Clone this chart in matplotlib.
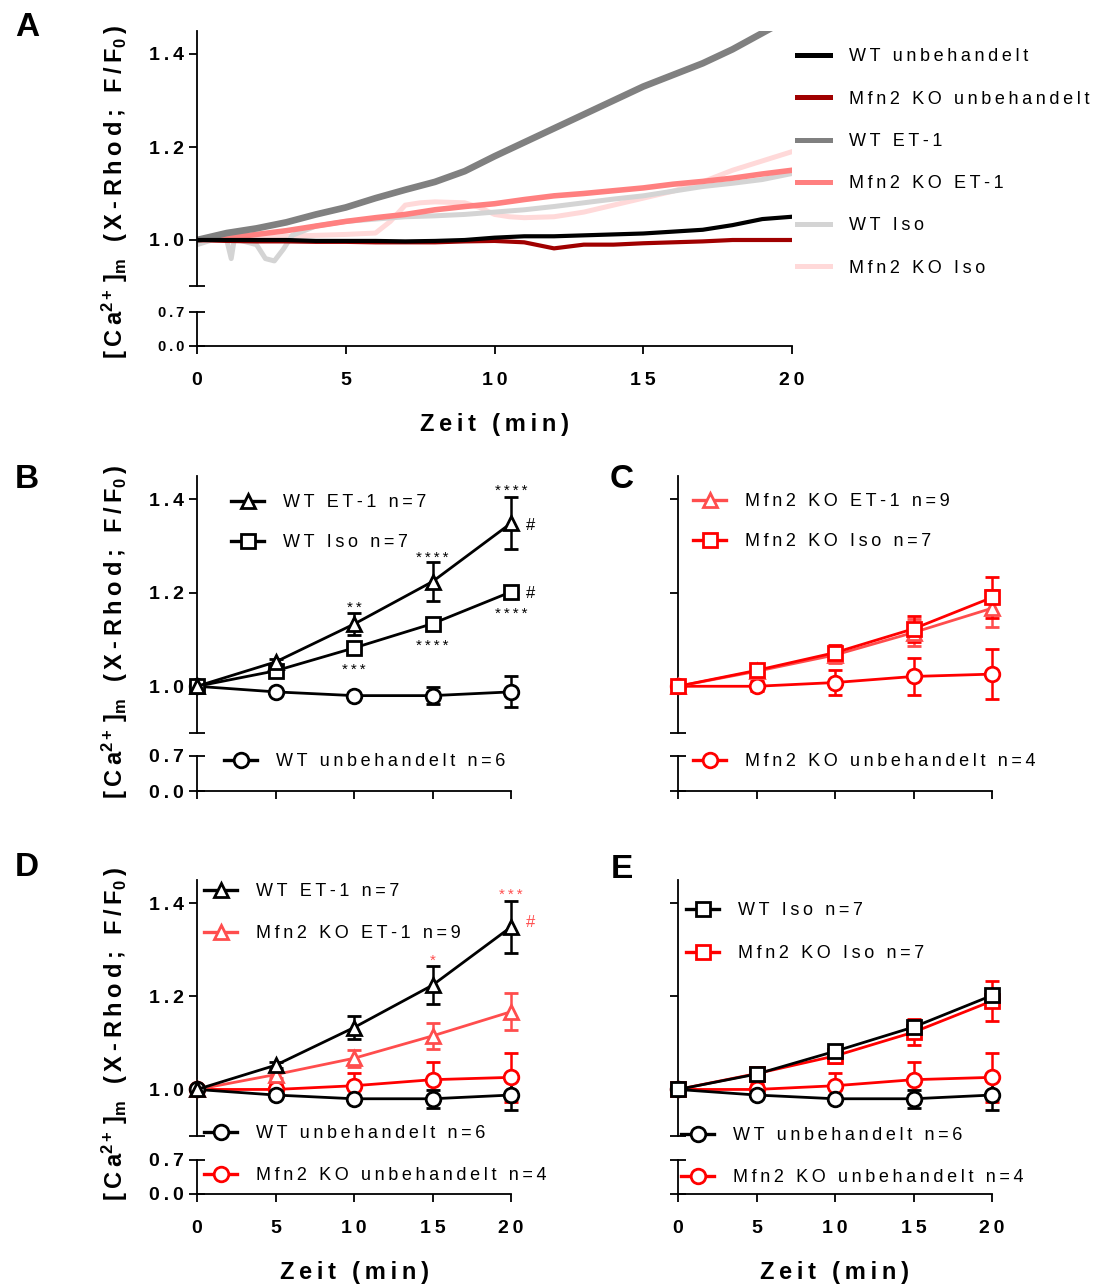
import matplotlib as mpl
mpl.use('Agg')
import matplotlib.pyplot as plt
from matplotlib.lines import Line2D
from matplotlib.ticker import FixedLocator, FuncFormatter

plt.rcParams['font.family'] = ['Liberation Sans', 'DejaVu Sans']
plt.rcParams['font.weight'] = 'bold'
plt.rcParams['axes.labelweight'] = 'bold'
plt.rcParams['mathtext.fontset'] = 'custom'
plt.rcParams['mathtext.rm'] = 'Liberation Sans:bold'
plt.rcParams['mathtext.bf'] = 'Liberation Sans:bold'
plt.rcParams['mathtext.it'] = 'Liberation Sans:bold'

######################
## data: panel A, mean traces (F/F0 over minutes)
######################

t_trace = [0, 1, 2, 3, 4, 5, 6, 7, 8, 9, 10, 11, 12, 13, 14, 15, 16, 17, 18, 19, 20]
wt_unbeh_trace = [1.0, 1.0, 1.0, 1.0, 0.998, 0.998, 0.998, 0.997, 0.998, 1.0, 1.005,
                  1.008, 1.008, 1.01, 1.012, 1.014, 1.018, 1.022, 1.032, 1.045, 1.05]
ko_unbeh_trace = [1.0, 0.998, 0.997, 0.997, 0.996, 0.996, 0.995, 0.995, 0.995, 0.997, 0.998,
                  0.995, 0.982, 0.99, 0.99, 0.993, 0.995, 0.997, 1.0, 1.0, 1.0]
wt_et1_trace = [1.0, 1.015, 1.025, 1.038, 1.055, 1.07, 1.09, 1.108, 1.125, 1.148, 1.18,
                1.21, 1.24, 1.27, 1.30, 1.33, 1.355, 1.38, 1.41, 1.445, 1.48]
ko_et1_trace = [1.0, 1.005, 1.012, 1.02, 1.03, 1.04, 1.048, 1.055, 1.065, 1.072, 1.078,
                1.087, 1.095, 1.10, 1.106, 1.112, 1.12, 1.126, 1.133, 1.142, 1.15]
t_wt_iso = [0, 0.5, 1.0, 1.15, 1.25, 1.4, 2.0, 2.3, 2.6, 2.9, 3.2, 4, 5, 6, 7, 8, 9, 10,
            11, 12, 13, 14, 15, 16, 17, 18, 19, 20]
wt_iso_trace = [0.99, 1.0, 1.0, 0.96, 1.0, 1.0, 0.99, 0.96, 0.955, 0.98, 1.01, 1.03, 1.04,
                1.045, 1.05, 1.052, 1.055, 1.06, 1.065, 1.072, 1.08, 1.088, 1.095, 1.105,
                1.115, 1.122, 1.13, 1.143]
t_ko_iso = [0, 1, 2, 3, 4, 5, 6, 6.5, 7, 7.5, 8, 9, 9.5, 10, 10.5, 11, 12, 13, 14, 15, 16,
            17, 18, 19, 20]
ko_iso_trace = [1.0, 1.0, 1.003, 1.008, 1.01, 1.012, 1.015, 1.04, 1.075, 1.08, 1.082, 1.08,
                1.07, 1.055, 1.05, 1.048, 1.05, 1.06, 1.075, 1.09, 1.105, 1.125, 1.15, 1.17, 1.19]

######################
## data: panels B-E, mean +- SEM at time points
######################

t_pts = [0, 5, 10, 15, 20]
wt_unbeh = [1.0, 0.988, 0.980, 0.980, 0.988]
wt_unbeh_err = [0.0, 0.004, 0.005, 0.019, 0.033]
wt_et1 = [1.0, 1.052, 1.133, 1.224, 1.349]
wt_et1_err = [0.0, 0.006, 0.024, 0.041, 0.056]
wt_iso = [1.0, 1.033, 1.082, 1.134, 1.202]
wt_iso_err = [0.0, 0.004, 0.008, 0.008, 0.012]
ko_unbeh = [1.0, 1.0, 1.008, 1.021, 1.026]
ko_unbeh_err = [0.0, 0.011, 0.027, 0.039, 0.053]
ko_et1 = [1.0, 1.032, 1.067, 1.115, 1.167]
ko_et1_err = [0.0, 0.008, 0.018, 0.028, 0.040]
ko_iso = [1.0, 1.034, 1.072, 1.123, 1.190]
ko_iso_err = [0.0, 0.006, 0.016, 0.028, 0.043]

x_ticks = [0, 5, 10, 15, 20]
y_ticks_top = [1.0, 1.2, 1.4]
y_ticks_low = [0.0, 0.7]

######################
## style
######################

W, H = 1098, 1288
LW_AX = 1.3
BLACK = 'black'
RED = '#ff0000'
LRED = '#ff4d4d'
SP = '\u2009'


def spaced(s):
    # GraphPad style letter spacing
    return SP.join(s)


fig = plt.figure(figsize=(W / 100, H / 100), dpi=100)


def px_rect(x0, x1, y0, y1):
    return [x0 / W, 1 - y1 / H, (x1 - x0) / W, (y1 - y0) / H]


def broken_axes(x0, x1, y_top, y_brk, y_low, y_zero, ylab=True, xlab=True, low_size=14):
    ax = fig.add_axes(px_rect(x0, x1, y_top, y_brk))
    axl = fig.add_axes(px_rect(x0, x1, y_low, y_zero))
    for a in (ax, axl):
        a.set_xlim(0, 20)
        a.patch.set_alpha(0)
        a.spines['top'].set_visible(False)
        a.spines['right'].set_visible(False)
        a.spines['left'].set_linewidth(LW_AX)
        a.spines['bottom'].set_linewidth(LW_AX)
        a.yaxis.set_major_formatter(FuncFormatter(lambda v, p: spaced('%.1f' % v)))
    ax.spines['bottom'].set_visible(False)
    ax.set_ylim(0.9, 1.45)
    ax.set_yticks(y_ticks_top)
    ax.yaxis.set_minor_locator(FixedLocator([0.9]))
    ax.tick_params(axis='y', which='major', direction='out', length=5.8, width=LW_AX,
                   labelsize=14, pad=3.5, labelleft=ylab)
    ax.tick_params(axis='y', which='minor', direction='inout', length=11.5, width=LW_AX)
    ax.tick_params(axis='x', bottom=False, labelbottom=False)

    axl.set_ylim(0, 0.7)
    axl.set_yticks(y_ticks_low)
    axl.tick_params(axis='y', direction='inout', length=11.5, width=LW_AX,
                    labelsize=low_size, pad=3.5, labelleft=ylab)
    axl.set_xticks(x_ticks)
    axl.xaxis.set_major_formatter(FuncFormatter(lambda v, p: spaced('%d' % v)))
    axl.tick_params(axis='x', direction='out', length=5.8, width=LW_AX, labelsize=14,
                    pad=13, labelbottom=xlab)
    if xlab:
        axl.set_xlabel(spaced('Zeit (min)'), fontsize=17, fontweight='bold', labelpad=17)
    return ax, axl


def ylabel(x, y):
    lab = (spaced('[Ca') + r'$^{\mathbf{2+}}$' + SP + ']' + r'$_{\mathbf{m}}$' + SP + ' ' + SP
           + spaced('(X-Rhod; F/F') + r'$_{\mathbf{0}}$' + SP + ')')
    fig.text(x / W, 1 - y / H, lab, rotation=90, ha='center', va='center', fontsize=17,
             fontweight='bold')


def letter(x, y, s):
    fig.text(x / W, 1 - y / H, s, ha='center', va='center', fontsize=24, fontweight='bold')


def legend(handles, labels, x_text, y_first, pitch, hl=33, pad=19, fs=13):
    fs_px = fs * 100 / 72
    leg = fig.legend(handles, [spaced(l) for l in labels], loc='upper left',
                     bbox_to_anchor=((x_text - pad - hl) / W, 1 - (y_first - 0.31 * fs_px) / H),
                     frameon=False, borderpad=0, borderaxespad=0,
                     handlelength=hl / fs_px, handletextpad=pad / fs_px,
                     labelspacing=(pitch - 0.95 * fs_px) / fs_px,
                     prop={'size': fs, 'weight': 'normal'})
    return leg


def series(ax, y, err, color, marker, ms):
    eb = ax.errorbar(t_pts, y, yerr=err, color=color, lw=2.0, marker=marker, ms=ms,
                     mfc='white', mec=color, mew=2.0, capsize=5, capthick=1.8,
                     elinewidth=1.8, zorder=3)
    for art in eb.get_children():
        art.set_clip_on(False)
    return eb


def handle(color, marker, ms):
    return Line2D([], [], color=color, lw=2.4, marker=marker, ms=ms, mfc='white',
                  mec=color, mew=2.0)


def note(ax, x, y, s, color, dx, dy, ha, va, fs=11):
    ax.annotate(spaced(s), xy=(x, y), xytext=(dx, dy), textcoords='offset points',
                ha=ha, va=va, color=color, fontsize=fs, fontweight='normal',
                annotation_clip=False)


######################
## panel A
######################

axA, axAl = broken_axes(197, 792, 30.75, 286.5, 312, 346, low_size=10.5)
trace_lw = 3.6
axA.plot(t_ko_iso, ko_iso_trace, color='#ffd9d9', lw=trace_lw)
axA.plot(t_wt_iso, wt_iso_trace, color='#d4d4d4', lw=trace_lw)
axA.plot(t_trace, ko_et1_trace, color='#ff8080', lw=trace_lw + 0.4)
axA.plot(t_trace, wt_et1_trace, color='#808080', lw=trace_lw + 1.2)
axA.plot(t_trace, ko_unbeh_trace, color='#a00000', lw=trace_lw - 0.6)
axA.plot(t_trace, wt_unbeh_trace, color='black', lw=trace_lw - 0.6)

a_cols = ['black', '#a00000', '#808080', '#ff8080', '#d4d4d4', '#ffd9d9']
a_labs = ['WT unbehandelt', 'Mfn2 KO unbehandelt', 'WT ET-1', 'Mfn2 KO ET-1', 'WT Iso',
          'Mfn2 KO Iso']
legend([Line2D([], [], color=c, lw=3.6) for c in a_cols], a_labs, 849, 54, 42.4)
ylabel(115, 192)
letter(27, 28, 'A')

######################
## panel B
######################

axB, axBl = broken_axes(197, 511, 476, 733, 756, 791, xlab=False)
series(axB, wt_unbeh, wt_unbeh_err, BLACK, 'o', 10.5)
series(axB, wt_iso, wt_iso_err, BLACK, 's', 9.5)
series(axB, wt_et1, wt_et1_err, BLACK, '^', 10.5)
legend([handle(BLACK, '^', 10.5), handle(BLACK, 's', 9.5)], ['WT ET-1 n=7', 'WT Iso n=7'],
       283, 500, 40)
legend([handle(BLACK, 'o', 10.5)], ['WT unbehandelt n=6'], 276, 759, 40)
note(axB, 20, wt_et1[4] + wt_et1_err[4], '****', BLACK, 0, -1, 'center', 'bottom')
note(axB, 15, wt_et1[3] + wt_et1_err[3], '****', BLACK, 0, -1.5, 'center', 'bottom')
note(axB, 10, wt_et1[2] + wt_et1_err[2], '**', BLACK, 0, -1.5, 'center', 'bottom')
note(axB, 10, wt_iso[2] - wt_iso_err[2], '***', BLACK, 0, -8, 'center', 'top')
note(axB, 15, wt_iso[3] - wt_iso_err[3], '****', BLACK, 0, -8, 'center', 'top')
note(axB, 20, wt_iso[4] - wt_iso_err[4], '****', BLACK, 0, -7, 'center', 'top')
note(axB, 20, wt_et1[4], '#', BLACK, 11, -2, 'left', 'center', fs=12)
note(axB, 20, wt_iso[4], '#', BLACK, 11, -1, 'left', 'center', fs=12)
ylabel(115, 632)
letter(27, 480, 'B')

######################
## panel C
######################

axC, axCl = broken_axes(678, 992, 476, 733, 756, 791, ylab=False, xlab=False)
series(axC, ko_unbeh, ko_unbeh_err, RED, 'o', 10.5)
series(axC, ko_et1, ko_et1_err, LRED, '^', 10.5)
series(axC, ko_iso, ko_iso_err, RED, 's', 9.5)
legend([handle(LRED, '^', 10.5), handle(RED, 's', 9.5)],
       ['Mfn2 KO ET-1 n=9', 'Mfn2 KO Iso n=7'], 745, 499, 40)
legend([handle(RED, 'o', 10.5)], ['Mfn2 KO unbehandelt n=4'], 745, 759, 40)
letter(622, 480, 'C')

######################
## panel D
######################

axD, axDl = broken_axes(197, 511, 880, 1136, 1160, 1194)
series(axD, ko_unbeh, ko_unbeh_err, RED, 'o', 10.5)
series(axD, ko_et1, ko_et1_err, LRED, '^', 10.5)
series(axD, wt_unbeh, wt_unbeh_err, BLACK, 'o', 10.5)
series(axD, wt_et1, wt_et1_err, BLACK, '^', 10.5)
legend([handle(BLACK, '^', 10.5), handle(LRED, '^', 10.5)],
       ['WT ET-1 n=7', 'Mfn2 KO ET-1 n=9'], 256, 889, 42)
legend([handle(BLACK, 'o', 10.5), handle(RED, 'o', 10.5)],
       ['WT unbehandelt n=6', 'Mfn2 KO unbehandelt n=4'], 256, 1131, 42)
note(axD, 20, wt_et1[4] + wt_et1_err[4], '***', LRED, 0, -1, 'center', 'bottom')
note(axD, 15, wt_et1[3] + wt_et1_err[3], '*', LRED, 0, -1, 'center', 'bottom')
note(axD, 20, wt_et1[4], '#', LRED, 11, 3, 'left', 'center', fs=12)
ylabel(115, 1034)
letter(27, 868, 'D')

######################
## panel E
######################

axE, axEl = broken_axes(678, 992, 880, 1136, 1160, 1194, ylab=False)
series(axE, ko_unbeh, ko_unbeh_err, RED, 'o', 10.5)
series(axE, ko_iso, ko_iso_err, RED, 's', 9.5)
series(axE, wt_unbeh, wt_unbeh_err, BLACK, 'o', 10.5)
series(axE, wt_iso, wt_iso_err, BLACK, 's', 9.5)
legend([handle(BLACK, 's', 9.5), handle(RED, 's', 9.5)], ['WT Iso n=7', 'Mfn2 KO Iso n=7'],
       738, 908, 43)
legend([handle(BLACK, 'o', 10.5), handle(RED, 'o', 10.5)],
       ['WT unbehandelt n=6', 'Mfn2 KO unbehandelt n=4'], 733, 1133, 42)
letter(622, 870, 'E')

plt.savefig('out.png', dpi=100)
